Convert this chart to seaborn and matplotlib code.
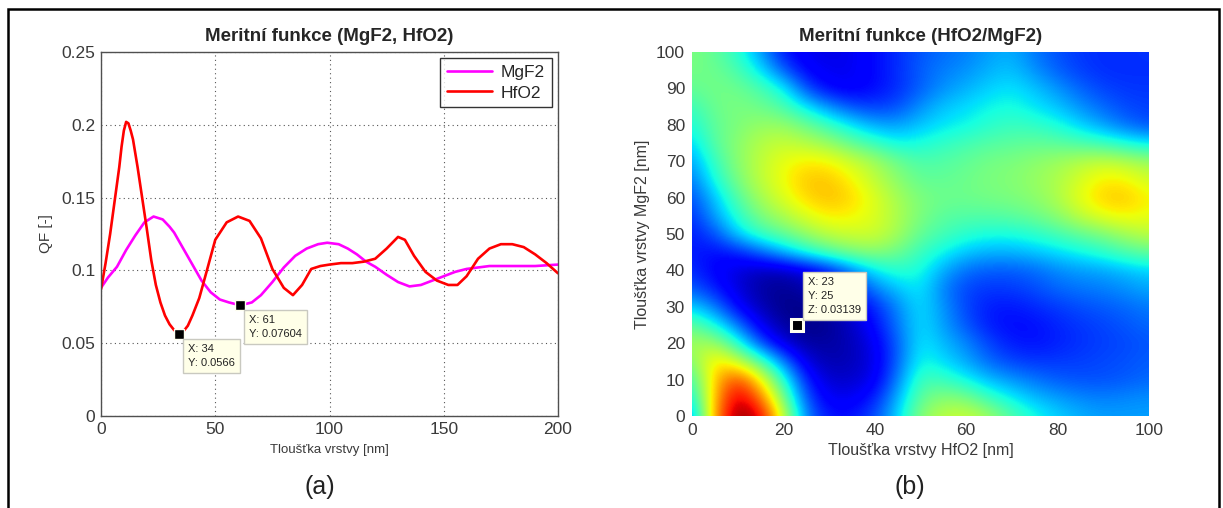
import numpy as np
import pandas as pd
import matplotlib
matplotlib.use("Agg")
import matplotlib.pyplot as plt
import seaborn as sns
from matplotlib.patches import Rectangle

# ---------------- data: panel (a) ----------------
thickness_hfo2 = [0, 2, 4, 6, 8, 9, 10, 11, 12, 13, 14, 16, 18, 20, 22, 24, 26, 28, 30, 32, 34,
                  36, 38, 40, 43, 46, 50, 55, 60, 65, 70, 75, 80, 84, 88, 92, 96, 100, 105, 110,
                  115, 120, 125, 130, 133, 137, 142, 147, 152, 156, 160, 165, 170, 175, 180,
                  185, 190, 195, 200]
qf_hfo2 = [0.087, 0.105, 0.125, 0.148, 0.171, 0.185, 0.196, 0.202, 0.201, 0.196, 0.190, 0.171,
           0.150, 0.129, 0.107, 0.090, 0.078, 0.069, 0.063, 0.059, 0.0566, 0.058, 0.062, 0.069,
           0.081, 0.098, 0.121, 0.133, 0.137, 0.134, 0.122, 0.101, 0.088, 0.083, 0.090, 0.101,
           0.103, 0.104, 0.105, 0.105, 0.106, 0.108, 0.115, 0.123, 0.121, 0.110, 0.099, 0.093,
           0.090, 0.090, 0.096, 0.108, 0.115, 0.118, 0.118, 0.116, 0.111, 0.105, 0.098]

thickness_mgf2 = [0, 3, 7, 11, 15, 19, 23, 27, 30, 32, 36, 40, 44, 48, 52, 56, 61, 66, 70, 75,
                  80, 85, 90, 95, 99, 104, 108, 112, 116, 120, 125, 130, 135, 140, 145, 150,
                  155, 160, 165, 170, 180, 190, 200]
qf_mgf2 = [0.088, 0.095, 0.1025, 0.114, 0.124, 0.133, 0.137, 0.135, 0.130, 0.126, 0.115, 0.104,
           0.093, 0.085, 0.080, 0.078, 0.07604, 0.078, 0.083, 0.092, 0.102, 0.110, 0.115, 0.118,
           0.119, 0.118, 0.115, 0.111, 0.106, 0.1025, 0.097, 0.092, 0.089, 0.090, 0.093, 0.096,
           0.099, 0.101, 0.102, 0.103, 0.103, 0.103, 0.104]

series_names = ["MgF2", "HfO2"]
series_colors = ["#ff00ff", "#ff0000"]

tip_a_x = [34, 61]
tip_a_y = [0.0566, 0.07604]

xticks_a = [0, 50, 100, 150, 200]
yticks_a = [0, 0.05, 0.1, 0.15, 0.2, 0.25]
ytick_labels_a = ["0", "0.05", "0.1", "0.15", "0.2", "0.25"]

# ---------------- data: panel (b) ----------------
map_hfo2_nm = [0, 5, 10, 15, 20, 25, 30, 35, 40, 45, 50, 55, 60, 65, 70, 75, 80, 85, 90, 95, 100]
map_mgf2_nm = [0, 5, 10, 15, 20, 25, 30, 35, 40, 45, 50, 55, 60, 65, 70, 75, 80, 85, 90, 95, 100]
# rows: MgF2 thickness 0 .. 100 (step 5), columns: HfO2 thickness 0 .. 100 (step 5)
qf_map = [
    [0.085, 0.195, 0.250, 0.235, 0.162, 0.085, 0.061, 0.061, 0.074, 0.103, 0.144, 0.158, 0.162, 0.151, 0.129, 0.114, 0.103, 0.096, 0.092, 0.092, 0.092],
    [0.107, 0.188, 0.239, 0.205, 0.140, 0.074, 0.052, 0.052, 0.063, 0.096, 0.133, 0.144, 0.140, 0.122, 0.109, 0.098, 0.092, 0.087, 0.085, 0.087, 0.089],
    [0.122, 0.184, 0.217, 0.175, 0.118, 0.063, 0.045, 0.045, 0.052, 0.085, 0.125, 0.122, 0.111, 0.098, 0.090, 0.083, 0.077, 0.075, 0.075, 0.077, 0.080],
    [0.140, 0.180, 0.162, 0.129, 0.085, 0.048, 0.039, 0.041, 0.050, 0.078, 0.114, 0.105, 0.094, 0.080, 0.072, 0.069, 0.070, 0.071, 0.073, 0.075, 0.078],
    [0.151, 0.151, 0.118, 0.074, 0.048, 0.037, 0.037, 0.041, 0.052, 0.078, 0.109, 0.098, 0.087, 0.072, 0.063, 0.061, 0.064, 0.068, 0.071, 0.073, 0.076],
    [0.133, 0.114, 0.083, 0.052, 0.037, 0.031, 0.034, 0.043, 0.059, 0.083, 0.107, 0.092, 0.076, 0.063, 0.059, 0.060, 0.065, 0.069, 0.072, 0.076, 0.080],
    [0.103, 0.085, 0.056, 0.041, 0.032, 0.032, 0.039, 0.050, 0.065, 0.087, 0.107, 0.090, 0.072, 0.063, 0.062, 0.066, 0.070, 0.074, 0.077, 0.080, 0.084],
    [0.078, 0.063, 0.048, 0.037, 0.034, 0.039, 0.048, 0.063, 0.085, 0.100, 0.109, 0.085, 0.072, 0.069, 0.070, 0.074, 0.080, 0.083, 0.085, 0.089, 0.094],
    [0.067, 0.056, 0.048, 0.041, 0.041, 0.048, 0.061, 0.085, 0.107, 0.118, 0.114, 0.094, 0.081, 0.077, 0.077, 0.080, 0.087, 0.091, 0.093, 0.098, 0.103],
    [0.063, 0.059, 0.063, 0.078, 0.096, 0.114, 0.129, 0.140, 0.144, 0.136, 0.122, 0.111, 0.100, 0.096, 0.096, 0.100, 0.105, 0.111, 0.118, 0.127, 0.133],
    [0.063, 0.074, 0.103, 0.122, 0.133, 0.147, 0.158, 0.162, 0.162, 0.151, 0.133, 0.125, 0.118, 0.114, 0.114, 0.118, 0.125, 0.133, 0.140, 0.151, 0.158],
    [0.067, 0.092, 0.118, 0.140, 0.153, 0.166, 0.175, 0.173, 0.166, 0.153, 0.140, 0.131, 0.129, 0.129, 0.131, 0.136, 0.144, 0.158, 0.169, 0.173, 0.169],
    [0.074, 0.100, 0.129, 0.151, 0.166, 0.180, 0.186, 0.180, 0.166, 0.151, 0.140, 0.136, 0.136, 0.138, 0.140, 0.144, 0.153, 0.169, 0.182, 0.184, 0.173],
    [0.083, 0.114, 0.140, 0.158, 0.171, 0.184, 0.184, 0.173, 0.158, 0.144, 0.133, 0.133, 0.136, 0.140, 0.142, 0.147, 0.153, 0.164, 0.175, 0.173, 0.162],
    [0.092, 0.122, 0.144, 0.158, 0.169, 0.175, 0.173, 0.162, 0.151, 0.136, 0.127, 0.129, 0.133, 0.138, 0.140, 0.144, 0.149, 0.155, 0.160, 0.155, 0.149],
    [0.103, 0.131, 0.144, 0.155, 0.160, 0.155, 0.147, 0.133, 0.122, 0.111, 0.114, 0.120, 0.125, 0.129, 0.131, 0.133, 0.131, 0.127, 0.122, 0.114, 0.107],
    [0.114, 0.133, 0.140, 0.147, 0.147, 0.136, 0.122, 0.107, 0.094, 0.092, 0.100, 0.107, 0.111, 0.118, 0.122, 0.120, 0.114, 0.103, 0.092, 0.081, 0.074],
    [0.122, 0.136, 0.140, 0.136, 0.127, 0.107, 0.089, 0.074, 0.070, 0.074, 0.089, 0.100, 0.105, 0.111, 0.114, 0.107, 0.100, 0.089, 0.080, 0.073, 0.071],
    [0.133, 0.138, 0.136, 0.127, 0.111, 0.074, 0.056, 0.054, 0.059, 0.067, 0.078, 0.089, 0.096, 0.103, 0.107, 0.100, 0.090, 0.079, 0.072, 0.069, 0.069],
    [0.138, 0.136, 0.127, 0.107, 0.078, 0.056, 0.052, 0.052, 0.059, 0.067, 0.078, 0.085, 0.089, 0.096, 0.100, 0.089, 0.078, 0.071, 0.067, 0.067, 0.067],
    [0.140, 0.133, 0.118, 0.092, 0.061, 0.052, 0.050, 0.052, 0.059, 0.067, 0.076, 0.081, 0.085, 0.092, 0.096, 0.083, 0.075, 0.069, 0.067, 0.067, 0.069],
]
map_vmin = 0.03
map_vmax = 0.25

tip_b_x = [23]
tip_b_y = [25]
tip_b_z = [0.03139]

xticks_b = [0, 20, 40, 60, 80, 100]
yticks_b = [0, 10, 20, 30, 40, 50, 60, 70, 80, 90, 100]

# ---------------- style ----------------
sns.set_theme(style="white")
plt.rcParams["font.family"] = ["Liberation Sans", "DejaVu Sans"]
tick_color = "#3a3a3a"

W, H = 1223, 508
fig = plt.figure(figsize=(W / 100, H / 100), dpi=100)
fig.patch.set_facecolor("white")

ax1 = fig.add_axes([101 / W, (H - 416) / H, 457 / W, 364 / H])
ax2 = fig.add_axes([692 / W, (H - 416) / H, 457 / W, 364 / H])

# ---------------- panel (a) ----------------
df = pd.concat([
    pd.DataFrame({"x": thickness_mgf2, "qf": qf_mgf2, "mat": series_names[0]}),
    pd.DataFrame({"x": thickness_hfo2, "qf": qf_hfo2, "mat": series_names[1]}),
], ignore_index=True)

sns.lineplot(data=df, x="x", y="qf", hue="mat", hue_order=series_names,
             palette=dict(zip(series_names, series_colors)), linewidth=1.9,
             ax=ax1, legend=False, estimator=None)

ax1.set_xlim(0, 200)
ax1.set_ylim(0, 0.25)
ax1.set_xticks(xticks_a)
ax1.set_yticks(yticks_a)
ax1.set_yticklabels(ytick_labels_a)
ax1.grid(True, linestyle=(0, (1, 3)), color="#555555", linewidth=0.8)
ax1.set_axisbelow(True)
ax1.tick_params(direction="in", length=4, labelsize=12.5, colors=tick_color,
                labelcolor=tick_color, pad=4)
for s in ax1.spines.values():
    s.set_color("#505050")
    s.set_linewidth(1.0)
ax1.set_xlabel("Tloušťka vrstvy [nm]", fontsize=9.5, color=tick_color, labelpad=5)
ax1.set_ylabel("QF [-]", fontsize=11, color=tick_color, labelpad=6)
ax1.set_title("Meritní funkce (MgF2, HfO2)", fontsize=13.5, fontweight="bold", pad=8)

handles = [plt.Line2D([], [], color=c, lw=1.9) for c in series_colors]
leg = ax1.legend(handles, series_names, loc="upper right", fontsize=12.5, frameon=True,
                 fancybox=False, edgecolor="black", handlelength=2.6, borderpad=0.4,
                 labelspacing=0.3, handletextpad=0.5, borderaxespad=0.35)
leg.get_frame().set_linewidth(1.0)

tip_box = dict(boxstyle="square,pad=0.45", fc="#ffffe8", ec="#c9c9c0", lw=1.0)
for tx, ty in zip(tip_a_x, tip_a_y):
    ax1.plot([tx], [ty], marker="s", ms=7, color="black", mec="#fffff0", mew=1.0, zorder=5)
    ax1.annotate(f"X: {tx}\nY: {ty}", xy=(tx, ty), xytext=(9, -10),
                 textcoords="offset pixels", ha="left", va="top", fontsize=8,
                 color="#222222", bbox=tip_box, zorder=6, linespacing=1.5)

# ---------------- panel (b) ----------------
step_x = map_hfo2_nm[1] - map_hfo2_nm[0]
step_y = map_mgf2_nm[1] - map_mgf2_nm[0]
ax2.imshow(np.array(qf_map), origin="lower", cmap="jet", vmin=map_vmin, vmax=map_vmax,
           interpolation="bicubic", aspect="auto",
           extent=[map_hfo2_nm[0] - step_x / 2, map_hfo2_nm[-1] + step_x / 2,
                   map_mgf2_nm[0] - step_y / 2, map_mgf2_nm[-1] + step_y / 2])
ax2.set_xlim(0, 100)
ax2.set_ylim(0, 100)
ax2.set_xticks(xticks_b)
ax2.set_yticks(yticks_b)
ax2.tick_params(length=0, labelsize=12.5, labelcolor=tick_color, pad=5)
for s in ax2.spines.values():
    s.set_visible(False)
ax2.set_xlabel("Tloušťka vrstvy HfO2 [nm]", fontsize=11.5, color=tick_color, labelpad=4)
ax2.set_ylabel("Tloušťka vrstvy MgF2 [nm]", fontsize=11.5, color=tick_color, labelpad=4)
ax2.set_title("Meritní funkce (HfO2/MgF2)", fontsize=13.5, fontweight="bold", pad=8)

for tx, ty, tz in zip(tip_b_x, tip_b_y, tip_b_z):
    ax2.plot([tx], [ty], marker="s", ms=8, color="black", mec="#fffff0", mew=2.2, zorder=5)
    ax2.annotate(f"X: {tx}\nY: {ty}\nZ: {tz}", xy=(tx, ty), xytext=(11, 10),
                 textcoords="offset pixels", ha="left", va="bottom", fontsize=8,
                 color="#222222", bbox=tip_box, zorder=6, linespacing=1.5)

# ---------------- figure decorations ----------------
fig.text(320 / W, 1 - 487 / H, "(a)", ha="center", va="center", fontsize=18, color="#222222")
fig.text(910 / W, 1 - 487 / H, "(b)", ha="center", va="center", fontsize=18, color="#222222")

frame = Rectangle((8 / W, -0.1), (1219 - 8) / W, 1 - 9 / H + 0.1, fill=False,
                  ec="black", lw=1.8, transform=fig.transFigure, clip_on=False)
fig.add_artist(frame)

fig.savefig("out.png", dpi=100)
